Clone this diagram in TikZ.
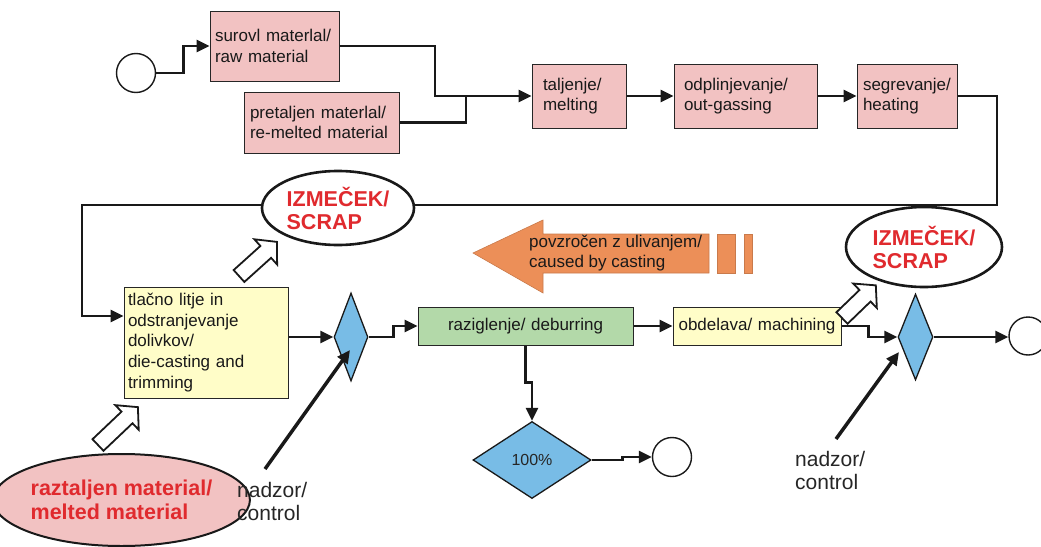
\documentclass[tikz,border=0pt]{standalone}
\usepackage{fontspec}
\setmainfont{Liberation Sans}
\usetikzlibrary{shapes.geometric, arrows.meta}

\definecolor{boxpink}{HTML}{F2C2C2}
\definecolor{boxyellow}{HTML}{FFFDC8}
\definecolor{boxgreen}{HTML}{B3D9A9}
\definecolor{decblue}{HTML}{78BCE6}
\definecolor{castorange}{HTML}{EC8F58}
\definecolor{scrapred}{HTML}{E02A2E}

% hollow arrow: tail x, tail y, angle, length
\newcommand{\hollowarr}[4]{%
  \draw[hollow, shift={(#1,#2)}, rotate=#3] (0,-8) -- ({#4-15},-8) -- ({#4-15},-17)
    -- (#4,0) -- ({#4-15},17) -- ({#4-15},8) -- (0,8) -- cycle;}

\begin{document}
\begin{tikzpicture}[x=1pt, y=-1pt, >={Triangle[length=13pt,width=12pt]},
    flow/.style={line width=2.6pt, draw=black!90},
    procbox/.style={draw=black!85, line width=1pt, inner xsep=7pt, inner ysep=0pt,
      align=left, text=black!90, font=\fontsize{17}{20.7}\selectfont},
    decision/.style={diamond, draw=black!90, line width=1.3pt, fill=decblue, inner sep=0pt},
    terminal/.style={circle, draw=black!90, line width=1.4pt, fill=white,
      minimum size=39pt, inner sep=0pt},
    scrap/.style={ellipse, draw=black!90, line width=2.6pt, fill=white, inner sep=0pt,
      align=left, text=scrapred, font=\bfseries\fontsize{21.5}{23}\selectfont},
    hollow/.style={draw=black!90, line width=1.8pt, fill=white, line join=miter},
    ctl/.style={line width=3.5pt, draw=black!90},
    ctltext/.style={align=left, text=black!85, inner sep=0pt,
      font=\fontsize{21}{23}\selectfont}]
    \useasboundingbox (0,0) rectangle (1041,546);

    % Top row: materials and melting
    \node[terminal] (start) at (136,73) {};
    \node[procbox, fill=boxpink, inner xsep=5pt, text width=119pt, minimum height=70pt] (raw) at (274.5,46)
      {surovl materlal/\\raw material};
    \node[procbox, fill=boxpink, inner xsep=6pt, text width=143pt, minimum height=61pt] (remelt) at (321.5,122.5)
      {pretaljen materlal/\\re-melted material};
    \node[procbox, fill=boxpink, inner xsep=11pt, text width=72pt, minimum height=64pt] (melt) at (579,96)
      {taljenje/\\melting};
    \node[procbox, fill=boxpink, inner xsep=10pt, text width=123pt, minimum height=64pt] (outgas) at (745.5,96)
      {odplinjevanje/\\out-gassing};
    \node[procbox, fill=boxpink, inner xsep=6pt, text width=88pt, minimum height=64pt] (heat) at (907,96)
      {segrevanje/\\heating};

    % Middle row: casting, deburring, machining
    \node[procbox, fill=boxyellow, inner xsep=4pt, text width=156pt, minimum height=111pt] (die) at (206,342.5)
      {tlačno litje in\\odstranjevanje\\dolivkov/\\die-casting and\\trimming};
    \node[decision, minimum width=34pt, minimum height=88pt] (d1) at (351,337) {};
    \node[procbox, fill=boxgreen, align=center, text width=201pt, minimum height=38pt] (deb) at (525.5,326)
      {raziglenje/ deburring};
    \node[procbox, fill=boxyellow, align=center, inner xsep=4pt, text width=160pt, minimum height=38pt] (mach) at (757,326)
      {obdelava/ machining};
    \node[decision, minimum width=35pt, minimum height=86pt] (d2) at (915.5,337) {};
    \node[terminal, minimum size=38pt] (end2) at (1028,336) {};

    % Bottom: 100% check
    \node[decision, minimum width=118pt, minimum height=77pt, text=black!85,
      font=\fontsize{16}{18}\selectfont] (d3) at (532,460) {100\%};
    \node[terminal] (end1) at (672,457) {};

    % Junctions
    \coordinate (jraw) at (435,96);
    \coordinate (jre) at (466,96);
    \coordinate (loopr) at (997,205);
    \coordinate (loopl) at (82,205);
    \coordinate (c1) at (265,469);
    \coordinate (c2) at (836,439);

    % Connectors
    \draw[flow, ->] (start.east) -- ++(27,0) |- (raw.west);
    \draw[flow, ->] (raw.east) -| (jraw) -- (melt.west);
    \draw[flow] (remelt.east) -| (jre);
    \draw[flow, ->] (melt.east) -- (outgas.west);
    \draw[flow, ->] (outgas.east) -- (heat.west);
    \draw[flow, ->] (heat.east) -| (loopr) -- (loopl) |- ([yshift=26.5pt]die.west);
    \draw[flow, ->] (die.east |- d1.west) -- (d1.west);
    \draw[flow, ->] (d1.east) -- ++(25,0) |- (deb.west);
    \draw[flow, ->] (deb.east) -- (mach.west);
    \draw[flow, ->] (mach.east) -- ++(27,0) |- (d2.west);
    \draw[flow, ->] (d2.east) -- (d2.east -| end2.west);
    \draw[flow, ->] (deb.south) -- ++(0,37) -| (d3.north);
    \draw[flow, ->] (d3.east) -- ++(31,0) |- (end1.west);

    % Scrap and melted material
    \node[scrap, minimum width=152pt, minimum height=74pt] (scrap1) at (338,208) {IZMEČEK/\\SCRAP};
    \node[scrap, minimum width=156pt, minimum height=80pt] (scrap2) at (924,247) {IZMEČEK/\\SCRAP};
    \node[ellipse, draw=black!90, line width=2pt, fill=boxpink, inner sep=0pt,
      minimum width=223pt, minimum height=92pt, align=left, text=scrapred,
      font=\bfseries\fontsize{21.5}{24}\selectfont] (melted) at (121.5,500)
      {raztaljen material/\\melted material};

    % Hollow arrows
    \hollowarr{239}{276}{42}{51}
    \hollowarr{842}{318}{44}{47}
    \hollowarr{98}{445}{43.5}{55}

    % Caused by casting
    \fill[castorange, draw=castorange!85!black, line width=0.6pt] (473,253) -- (543,220) -- (543,234)
      -- (709,234) -- (709,273) -- (543,273) -- (543,293) -- cycle;
    \fill[castorange, draw=castorange!85!black, line width=0.6pt] (717,234) rectangle (735,273);
    \fill[castorange, draw=castorange!85!black, line width=0.6pt] (744,234) rectangle (752,273);
    \node[anchor=west, align=left, inner sep=0pt, text=black!90,
      font=\fontsize{17}{20}\selectfont] (cause) at (529,253)
      {povzročen z ulivanjem/\\caused by casting};

    % Control
    \draw[ctl, ->] (c1) -- ([xshift=-1pt,yshift=-13pt]d1.center);
    \draw[ctl, ->] (c2) -- ([xshift=-16.5pt,yshift=-15pt]d2.center);
    \node[ctltext, anchor=west] (ctl1) at (237,501) {nadzor/\\control};
    \node[ctltext, anchor=west] (ctl2) at (795,470) {nadzor/\\control};
\end{tikzpicture}
\end{document}
